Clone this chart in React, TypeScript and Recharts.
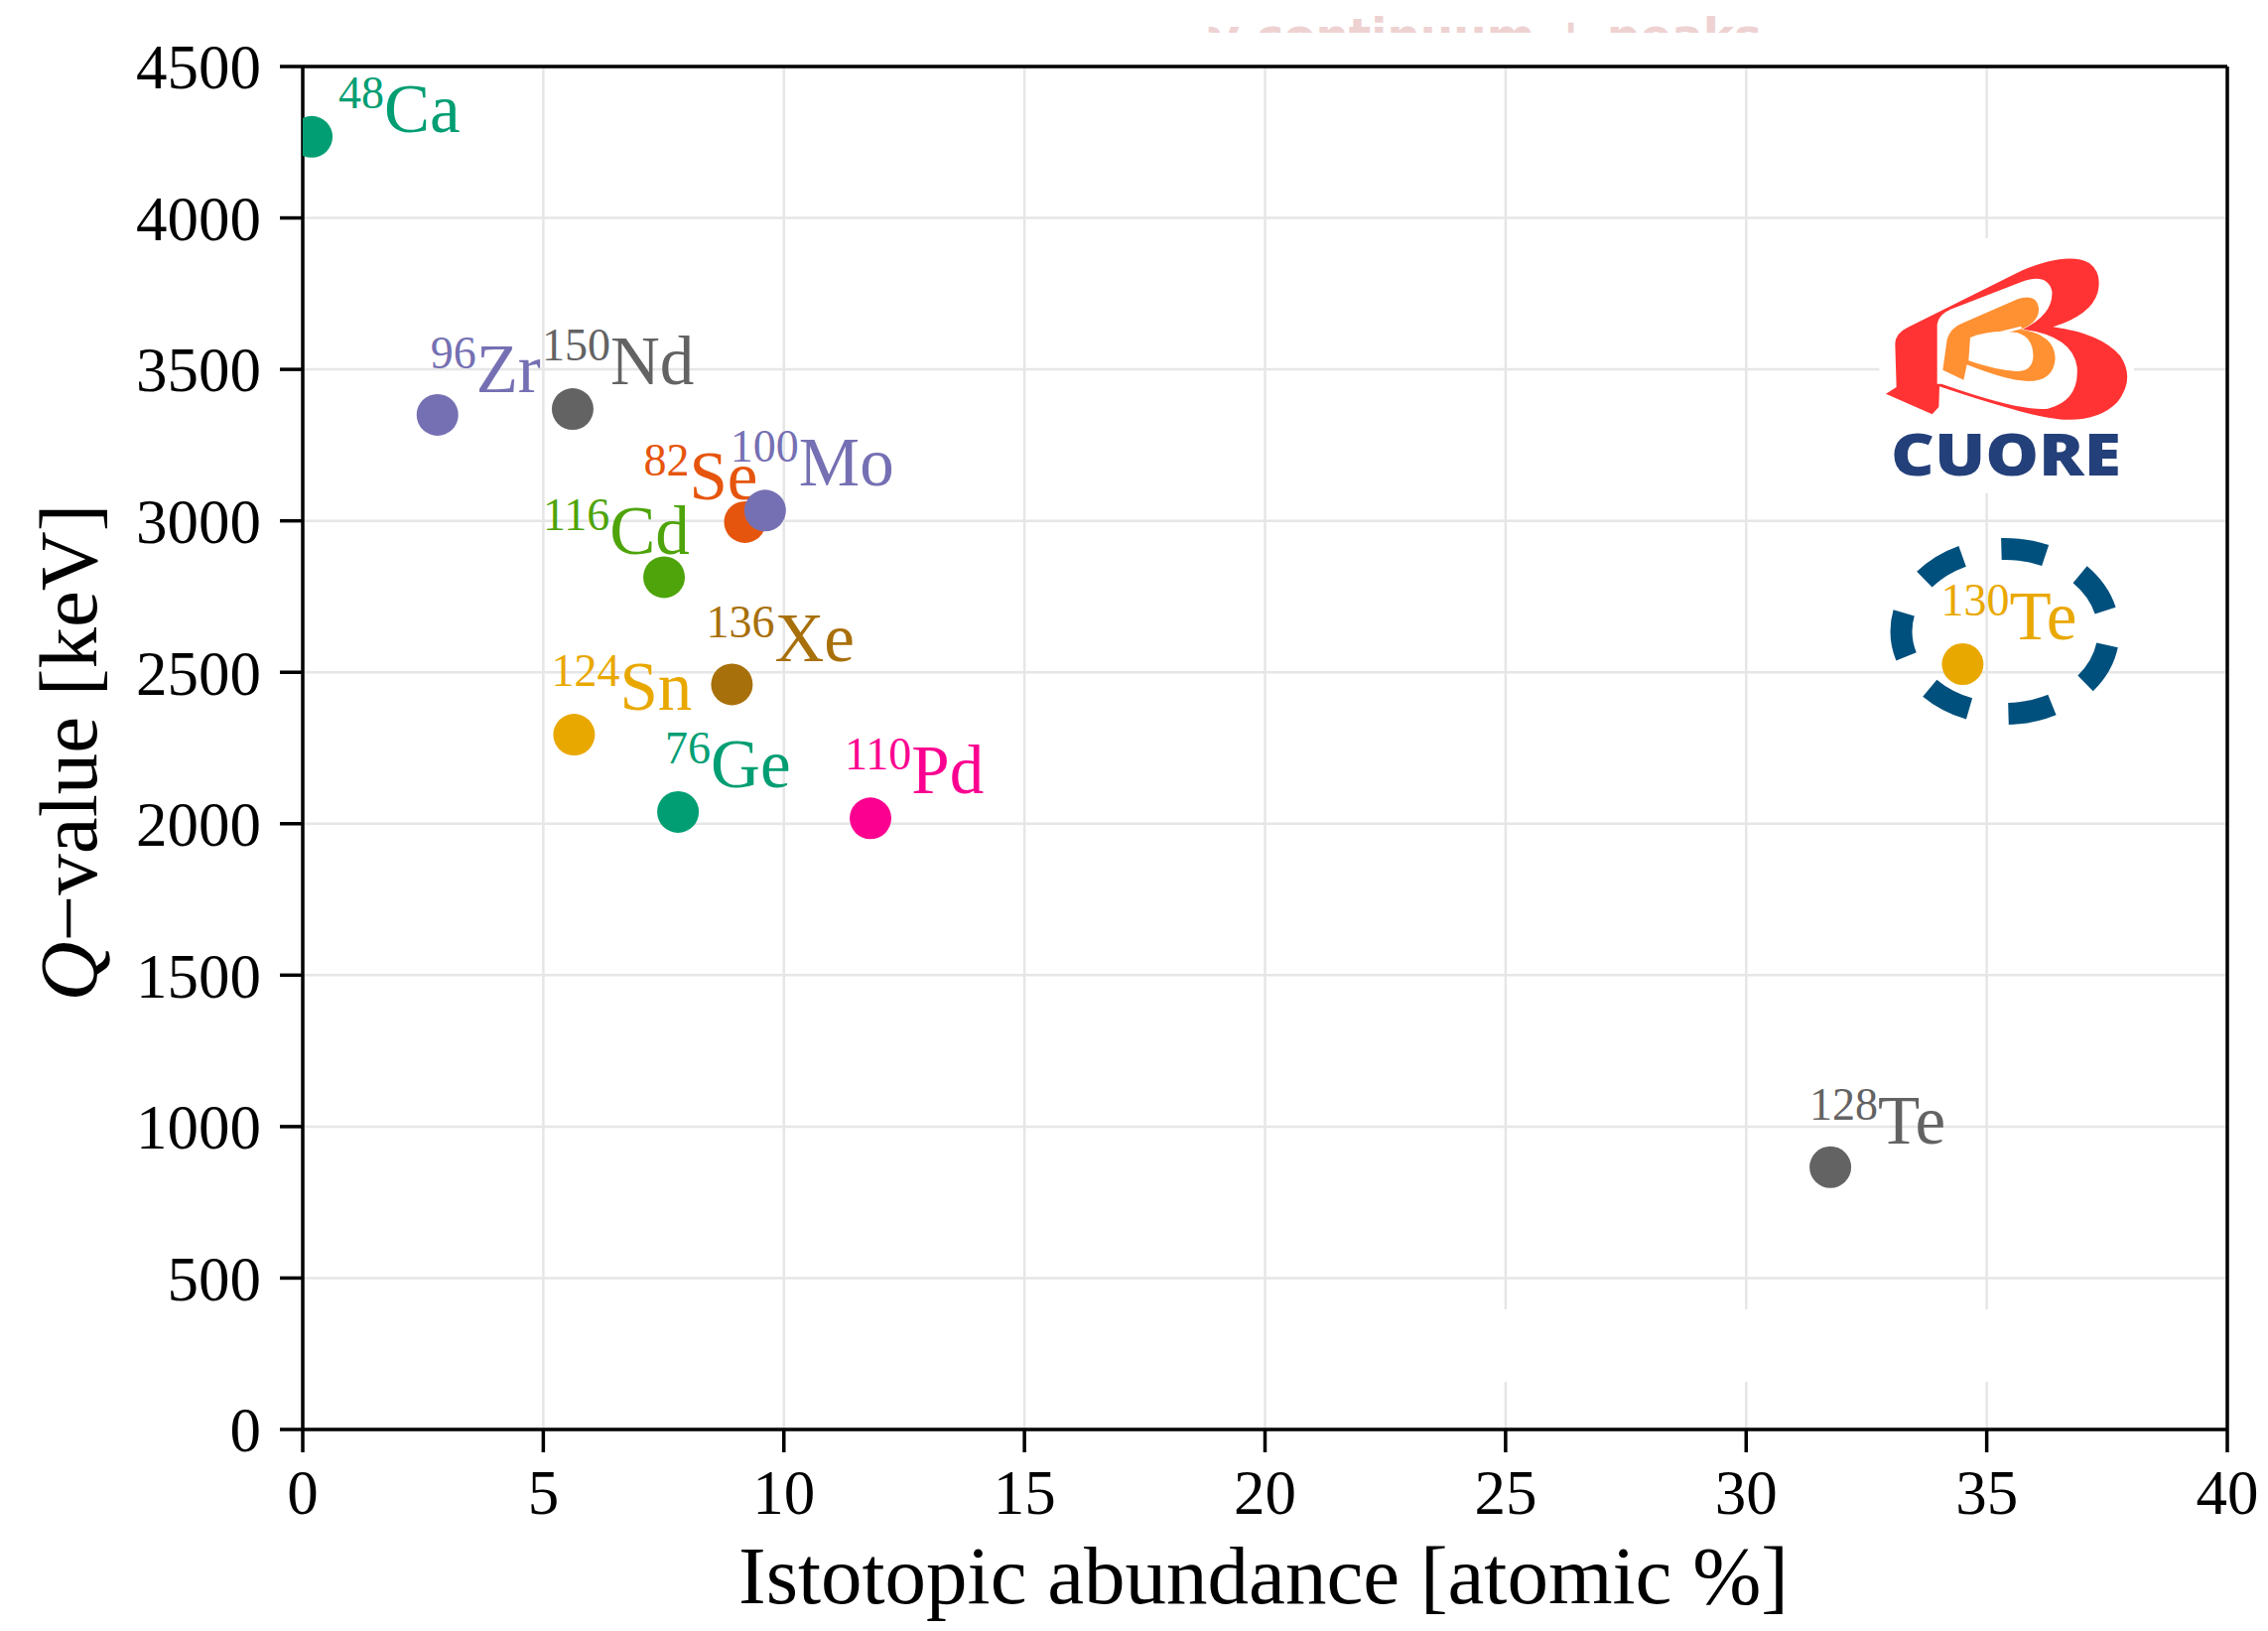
import React from 'react';
import {
  ScatterChart,
  Scatter,
  XAxis,
  YAxis,
  CartesianGrid,
  ReferenceLine,
  Customized,
} from 'recharts';

// ---- data ----
const elements = ['Ca', 'Zr', 'Nd', 'Se', 'Mo', 'Cd', 'Xe', 'Sn', 'Ge', 'Pd', 'Te', 'Te'];
const massNumbers = ['48', '96', '150', '82', '100', '116', '136', '124', '76', '110', '130', '128'];
const abundance = [0.187, 2.8, 5.61, 9.19, 9.61, 7.51, 8.92, 5.64, 7.8, 11.8, 34.5, 31.75];
const qValue = [4268, 3350, 3369, 2996, 3034, 2814, 2460, 2294, 2039, 2018, 2527, 866];
const xTicks = [0, 5, 10, 15, 20, 25, 30, 35, 40];
const yTicks = [0, 500, 1000, 1500, 2000, 2500, 3000, 3500, 4000, 4500];

// ---- styles ----
const colors = [
  '#029e73', '#7570b3', '#636363', '#e6550d', '#7570b3', '#4ea40a',
  '#a8700b', '#e9a800', '#029e73', '#fb0090', '#e9a800', '#636363',
];
const labelOffsets: [number, number][] = [
  [27, -5], [-7, -23], [-31, -25], [-102, -23], [-35, -25], [-122, -23],
  [-26, -23], [-23, -25], [-13, -25], [-26, -25], [-22, -25], [-21, -24],
];

const data = abundance.map((x, i) => ({
  x,
  y: qValue[i],
  el: elements[i],
  mass: massNumbers[i],
  color: colors[i],
  off: labelOffsets[i],
}));

const SERIF = '"Liberation Serif", "DejaVu Serif", serif';

const W = 2270;
const H = 1627;
const PLOT = { left: 297, top: 59, right: 2236, bottom: 1432 };

const Dot = (p: any) => {
  const { cx, cy, payload } = p;
  if (cx == null || cy == null) return null;
  const [dx, dy] = payload.off;
  return (
    <g>
      <circle cx={cx} cy={cy} r={21} fill={payload.color} clipPath="url(#plotClip)" />
      <text x={cx + dx} y={cy + dy} fill={payload.color} fontFamily={SERIF}>
        <tspan fontSize={46} dy={-24}>{payload.mass}</tspan>
        <tspan fontSize={69} dy={24}>{payload.el}</tspan>
      </text>
    </g>
  );
};

const Decor = () => (
  <g>
    <defs>
      <clipPath id="plotClip">
        <rect x={PLOT.left} y={PLOT.top} width={PLOT.right - PLOT.left} height={PLOT.bottom - PLOT.top} />
      </clipPath>
      <clipPath id="topClip">
        <rect x={0} y={0} width={W} height={25} />
      </clipPath>
    </defs>
    {/* faint text cut off at the top */}
    <text
      x={1209}
      y={45}
      fontFamily='"DejaVu Sans", sans-serif'
      fontWeight="bold"
      fontSize={48}
      fill="#eed2d2"
      textLength={558}
      lengthAdjust="spacingAndGlyphs"
      clipPath="url(#topClip)"
    >
      γ continuum + peaks
    </text>
    {/* white patch in the lower right */}
    <rect x={1470} y={1311} width={755} height={73} fill="#ffffff" />
    {/* CUORE logo */}
    <g transform="translate(1842,222) scale(0.33333)">
      <rect x={130} y={30} width={770} height={770} fill="#ffffff" />
      <path
        d="M 150 500 L 182 480 L 178 350 Q 178 318 215 300 L 560 128 Q 700 70 765 105 Q 805 135 790 195 Q 770 262 655 298 Q 800 318 858 385 Q 905 455 850 525 Q 795 582 690 578 Q 590 572 312 478 L 310 540 L 290 562 Z"
        fill="#ff3333"
      />
      <path
        d="M 305 470 L 305 290 Q 308 262 345 245 L 570 158 Q 640 138 652 190 Q 658 258 565 305 Q 715 325 728 420 Q 735 520 640 545 Q 560 555 318 470 Z"
        fill="#ffffff"
      />
      <path
        d="M 322 428 L 335 335 Q 345 300 385 285 L 545 215 Q 605 195 612 240 Q 615 282 560 305 Q 660 322 662 392 Q 658 462 580 462 Q 515 460 395 412 L 385 458 Z"
        fill="#ff9133"
      />
      <path
        d="M 400 400 L 405 330 Q 470 305 545 315 Q 598 330 595 392 Q 590 432 545 432 Q 480 428 400 400 Z"
        fill="#ffffff"
      />
      <path d="M 420 335 L 560 300" stroke="#ffffff" strokeWidth={8} />
    </g>
    <text
      x={1897}
      y={471}
      fontFamily='"Open Sans", "DejaVu Sans", sans-serif'
      fontWeight={800}
      fontSize={58}
      fill="#24407a"
      textLength={232}
      lengthAdjust="spacingAndGlyphs"
    >
      CUORE
    </text>
    {/* dashed ring around 130Te */}
    <ellipse
      cx={2012}
      cy={628}
      rx={104.5}
      ry={83}
      fill="none"
      stroke="#00507d"
      strokeWidth={22}
      strokeDasharray="45 40"
      strokeDashoffset={71}
    />
    {/* axis titles */}
    <text
      x={1265}
      y={1607}
      textAnchor="middle"
      fontFamily={SERIF}
      fontSize={83}
      fill="#000"
    >
      Istotopic abundance [atomic %]
    </text>
    <text
      x={89}
      y={750}
      textAnchor="middle"
      transform="rotate(-90 89 750)"
      fontFamily={SERIF}
      fontSize={83}
      fill="#000"
    >
      <tspan fontStyle="italic">Q</tspan>−value [keV]
    </text>
  </g>
);

export default function App() {
  return (
    <div style={{ width: W, height: H, background: '#fff' }}>
      <ScatterChart
        width={W}
        height={H}
        margin={{ top: PLOT.top, right: W - PLOT.right, left: 0, bottom: 0 }}
      >
        <CartesianGrid stroke="#e6e6e6" strokeWidth={2.5} horizontalValues={yTicks} verticalValues={xTicks} />
        <Customized component={<Decor />} />
        <XAxis
          type="number"
          dataKey="x"
          domain={[0, 40]}
          ticks={xTicks}
          height={H - PLOT.bottom}
          tickSize={23}
          tickMargin={17}
          axisLine={{ stroke: '#000', strokeWidth: 3.5 }}
          tickLine={{ stroke: '#000', strokeWidth: 3.5 }}
          tick={{ fill: '#000', fontFamily: SERIF, fontSize: 63 }}
          interval={0}
        />
        <YAxis
          type="number"
          dataKey="y"
          domain={[0, 4500]}
          ticks={yTicks}
          width={PLOT.left}
          tickSize={23}
          tickMargin={19}
          axisLine={{ stroke: '#000', strokeWidth: 3.5 }}
          tickLine={{ stroke: '#000', strokeWidth: 3.5 }}
          tick={{ fill: '#000', fontFamily: SERIF, fontSize: 63 }}
          interval={0}
        />
        <ReferenceLine y={4500} stroke="#000" strokeWidth={3.5} />
        <ReferenceLine x={40} stroke="#000" strokeWidth={3.5} />
        <Scatter data={data} shape={Dot} isAnimationActive={false} />
      </ScatterChart>
    </div>
  );
}
